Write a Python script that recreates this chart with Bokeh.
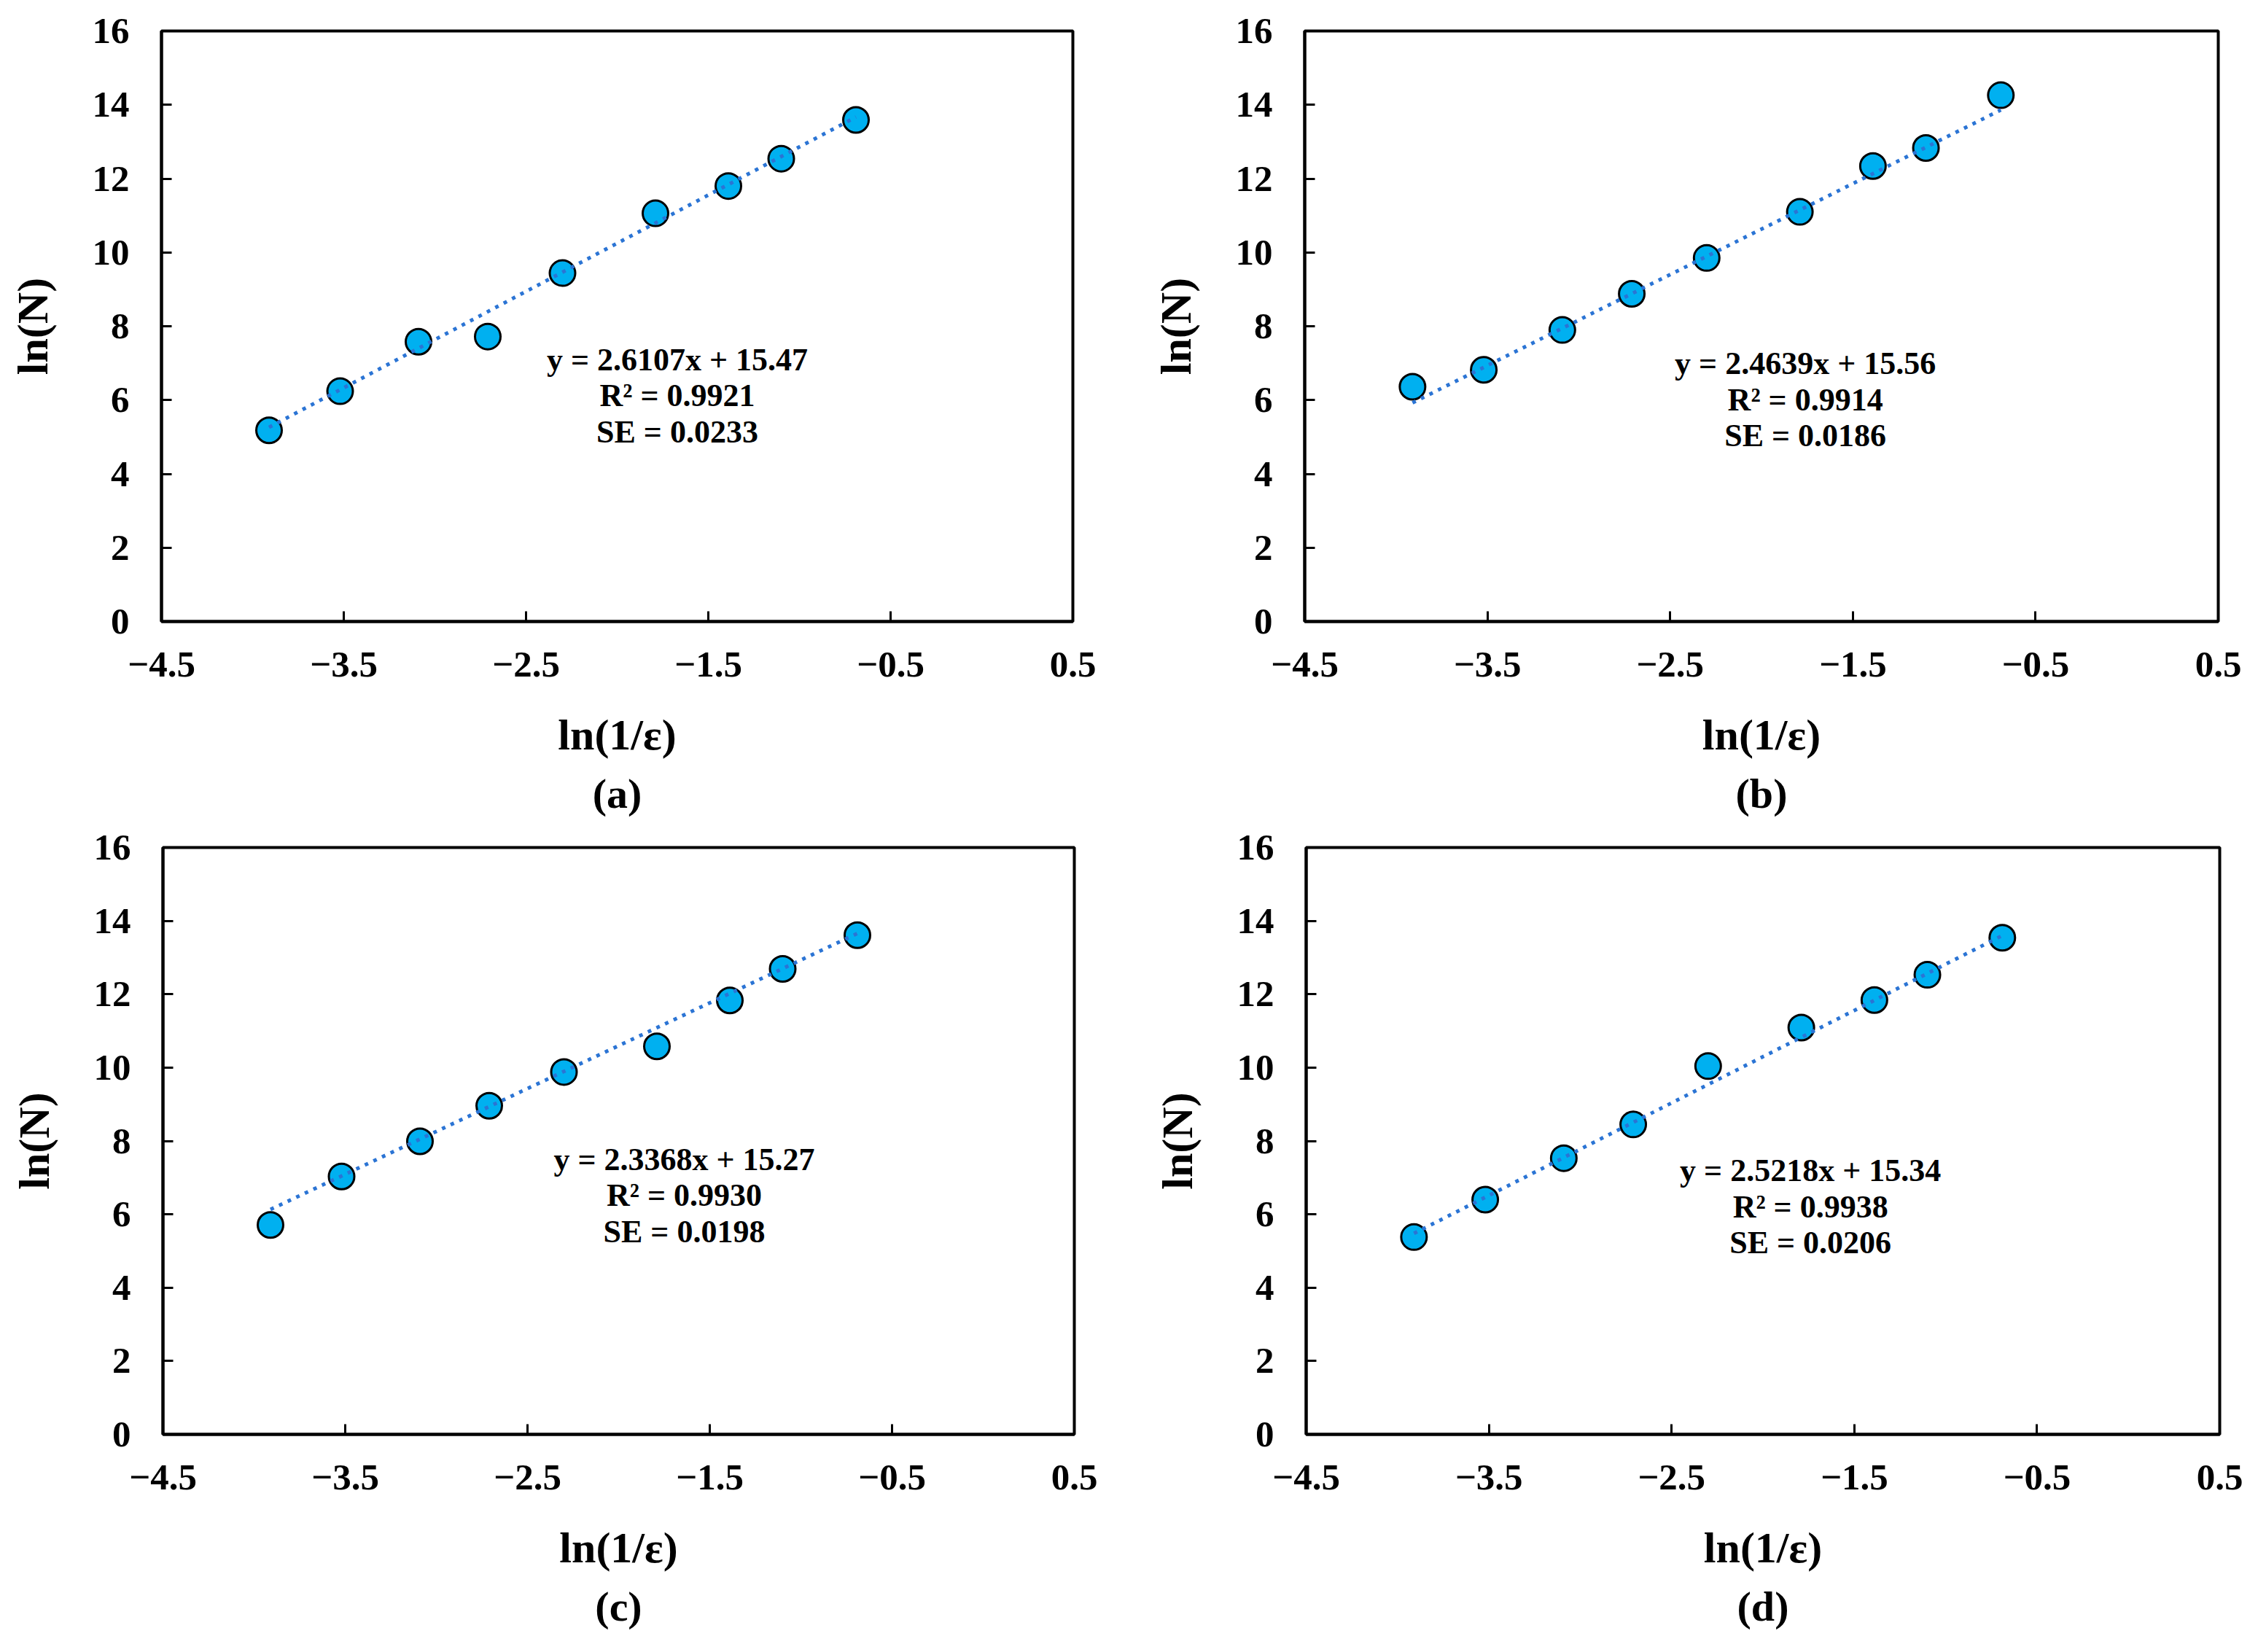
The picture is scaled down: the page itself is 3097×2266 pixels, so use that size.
#!/usr/bin/env python3
from bokeh.core.properties import value
from bokeh.embed import file_html
from bokeh.layouts import column, row
from bokeh.models import FixedTicker, Range1d, Title
from bokeh.plotting import figure
from bokeh.resources import INLINE

FONT = "Liberation Serif"

# ln(1/eps) values, shared by all four panels
X_LN = [-3.91, -3.52, -3.09, -2.71, -2.30, -1.79, -1.39, -1.10, -0.69]

# ln(N)
Y_A = [5.18, 6.24, 7.58, 7.72, 9.44, 11.06, 11.80, 12.54, 13.59]
Y_B = [6.36, 6.82, 7.90, 8.88, 9.85, 11.10, 12.34, 12.83, 14.26]
Y_C = [5.71, 7.03, 7.99, 8.96, 9.88, 10.58, 11.83, 12.69, 13.61]
Y_D = [5.38, 6.40, 7.53, 8.45, 10.04, 11.09, 11.84, 12.53, 13.54]

# linear fits as printed on the chart
SLOPES = [2.6107, 2.4639, 2.3368, 2.5218]
INTERCEPTS = [15.47, 15.56, 15.27, 15.34]
R2 = ["0.9921", "0.9914", "0.9930", "0.9938"]
SE = ["0.0233", "0.0186", "0.0198", "0.0206"]
CAPTIONS = ["(a)", "(b)", "(c)", "(d)"]

X_TICKS = [-4.5, -3.5, -2.5, -1.5, -0.5, 0.5]
X_TICK_LABELS = ["\u22124.5", "\u22123.5", "\u22122.5", "\u22121.5", "\u22120.5", "0.5"]
Y_TICKS = [0, 2, 4, 6, 8, 10, 12, 14, 16]


def make_panel(ys, slope, intercept, r2, se, caption, label_xy, size, borders):
    width, height = size
    left, right, top, bottom = borders
    p = figure(
        width=width, height=height,
        x_range=Range1d(-4.5, 0.5), y_range=Range1d(0, 16),
        output_backend="svg", toolbar_location=None,
        min_border_left=left, min_border_right=right,
        min_border_top=top, min_border_bottom=bottom,
        background_fill_color="white", border_fill_color="white",
    )
    p.xgrid.visible = False
    p.ygrid.visible = False
    p.outline_line_color = "black"
    p.outline_line_width = 4
    p.outline_line_alpha = 1

    p.xaxis.ticker = FixedTicker(ticks=X_TICKS)
    p.xaxis.major_label_overrides = dict(zip(X_TICKS, X_TICK_LABELS))
    p.yaxis.ticker = FixedTicker(ticks=Y_TICKS)
    p.xaxis.axis_label = "ln(1/\u03b5)"
    p.yaxis.axis_label = "ln(N)"

    for ax in (p.xaxis[0], p.yaxis[0]):
        ax.axis_line_width = 4
        ax.axis_line_color = "black"
        ax.major_tick_in = 14
        ax.major_tick_out = 0
        ax.major_tick_line_width = 3
        ax.minor_tick_line_color = None
        ax.major_label_text_font = FONT
        ax.major_label_text_font_style = "bold"
        ax.major_label_text_font_size = "51px"
        ax.major_label_text_color = "black"
        ax.axis_label_text_font = FONT
        ax.axis_label_text_font_style = "bold"
        ax.axis_label_text_font_size = "60px"
        ax.axis_label_text_color = "black"

    p.xaxis.major_label_standoff = 42
    p.xaxis.axis_label_standoff = 44
    p.yaxis.major_label_standoff = 44
    p.yaxis.axis_label_standoff = 46

    p.add_layout(Title(text=caption, align="center", text_font=FONT,
                       text_font_size="58px", text_font_style="bold",
                       text_color="black", standoff=20), "below")

    p.scatter(X_LN, ys, size=35, fill_color="#00B0F0", line_color="black", line_width=3)

    xs_fit = [min(X_LN), max(X_LN)]
    p.line(xs_fit, [slope * x + intercept for x in xs_fit],
           line_color="#2B74D4", line_width=5, line_dash="5 8")

    lx, ly = label_xy
    lines = [f"y = {slope:.4f}x + {intercept:.2f}", f"R\u00b2 = {r2}", f"SE = {se}"]
    p.text(x=[lx] * 3, y=[ly + 0.98, ly, ly - 0.98], text=lines,
           text_font=value(FONT), text_font_size="44px", text_font_style="bold",
           text_color="black", text_align="center", text_baseline="middle")
    return p


label_pos = [(-1.67, 6.12), (-1.76, 6.01), (-1.64, 6.51), (-1.74, 6.21)]
sizes = [(1540, 1130), (1541, 1130), (1540, 1130), (1541, 1130)]
borders = [(221, 69, 42, 277), (249, 39, 42, 277),
           (223, 67, 32, 293), (251, 37, 32, 293)]
series = [Y_A, Y_B, Y_C, Y_D]

panels = [make_panel(series[i], SLOPES[i], INTERCEPTS[i], R2[i], SE[i],
                     CAPTIONS[i], label_pos[i], sizes[i], borders[i])
          for i in range(4)]

layout = column(row(panels[0], panels[1], spacing=0),
                row(panels[2], panels[3], spacing=0), spacing=0)

open("out.html", "w").write(file_html(layout, INLINE))
